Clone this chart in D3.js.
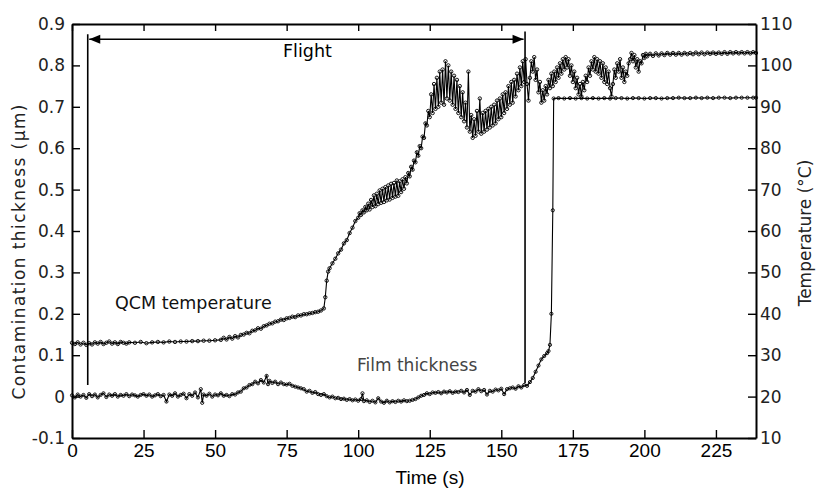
<!DOCTYPE html>
<html><head><meta charset="utf-8">
<script src="https://cdn.jsdelivr.net/npm/d3@7/dist/d3.min.js"></script>
<style>body{margin:0;background:#fff}svg{display:block}</style>
</head><body><svg id="chart" width="817" height="489"></svg>
<script>
// ---- data ----
const timeTicks = [0, 25, 50, 75, 100, 125, 150, 175, 200, 225];
const thicknessTicks = [-0.1, 0, 0.1, 0.2, 0.3, 0.4, 0.5, 0.6, 0.7, 0.8, 0.9];
const thicknessTickLabels = ["-0.1", "0", "0.1", "0.2", "0.3", "0.4", "0.5", "0.6", "0.7", "0.8", "0.9"];
const temperatureTicks = [10, 20, 30, 40, 50, 60, 70, 80, 90, 100, 110];

const flightStart = 5.5;       // s
const flightEnd = 158.3;       // s
const flightArrowLevel = 0.863; // µm
const flightStartBottom = 0.028;
const flightEndBottom = 0.033;
const flightStartTop = 0.875;
const flightEndTop = 0.882;

// QCM temperature (°C, right axis): [time s, temperature]
const qcmTemperature = [
[0,33.0],[1,32.7],[2,33.1],[3,32.6],[4,33.0],[5,32.5],[6,32.9],[7,32.6],[8,33.1],[9,32.8],[10,33.2],[11,32.7],[12,33.0],[13,33.3],[14,32.8],[15,33.1],[16,32.7],[17,33.2],[18,33.0],[19,32.8],[20,33.1],[22,33.0],[24,33.2],[26,32.9],[28,33.1],[30,33.2],[32,33.1],[34,33.3],[36,33.2],[38,33.3],[40,33.3],[42,33.4],[44,33.4],[46,33.5],[48,33.5],[50,33.6],[52,33.7],[53,34.2],[54,33.8],[55,34.4],[56,34.0],[57,34.6],[58,34.3],[59,34.9],[60,35.0],[61,35.4],[62,35.3],[63,35.9],[64,36.0],[65,36.5],[66,36.4],[67,37.0],[68,37.2],[69,37.6],[70,37.7],[71,38.1],[72,38.2],[73,38.6],[74,38.5],[75,38.9],[76,39.0],[77,39.3],[78,39.2],[79,39.6],[80,39.6],[81,39.9],[82,39.9],[83,40.1],[84,40.2],[85,40.4],[86,40.5],[87,40.8],[88,41.3],[88.5,44.0],[89,48.0],[89.5,50.2],[90,51.0],[91,52.2],[92,53.3],[93,54.6],[94,55.5],[95,57.0],[96,57.8],[97,59.5],[98,60.8],[99,62.4],
[100,63.2],[100.5,64.3],[101,63.9],[101.5,65.0],[102,64.5],[102.5,65.8],[103,65.0],[103.5,66.6],[104,65.2],[104.5,67.5],[105,65.8],[105.5,68.6],[106,66.0],[106.5,69.0],[107,66.5],[107.5,69.8],[108,66.8],[108.5,70.2],[109,67.0],[109.5,70.6],[110,67.4],[110.5,71.0],[111,67.6],[111.5,71.4],[112,68.0],[112.5,71.6],[113,68.3],[113.5,72.2],[114,68.5],[114.5,72.0],[115,69.4],[115.5,72.5],[116,70.2],[116.5,73.0],[117,71.5],[117.5,74.0],[118,73.2],[118.5,75.5],[119,74.8],[119.5,77.0],[120,76.6],[120.5,79.0],[121,78.2],[121.5,80.5],[122,80.0],[122.5,82.8],[123,82.5],[123.5,86.0],[124,85.5],[124.5,89.0],
[125,87.5],[125.5,93.0],[126,88.5],[126.5,95.5],[127,89.5],[127.5,97.0],[128,90.0],[128.5,98.5],[129,91.0],[129.5,99.0],[130,90.5],[130.5,101.0],[131,92.0],[131.5,100.0],[132,91.5],[132.5,98.5],[133,90.5],[133.5,97.5],[134,89.5],[134.5,96.5],[135,88.5],[135.5,95.0],[136,87.5],[136.5,93.5],[137,86.5],[137.5,91.0],[138,85.0],[138.5,98.5],[139,84.0],[139.5,88.0],[140,82.5],[140.5,87.0],[141,83.0],[141.5,89.0],[142,84.0],[142.5,92.0],[143,83.5],[143.5,88.5],[144,84.0],[144.5,89.0],[145,84.5],[145.5,89.5],[146,85.0],[146.5,90.0],[147,85.5],[147.5,90.5],[148,86.0],[148.5,91.5],[149,87.0],[149.5,92.0],
[150,87.5],[150.5,93.0],[151,88.5],[151.5,93.5],[152,89.5],[152.5,95.0],[153,90.5],[153.5,96.0],[154,91.0],[154.5,96.5],[155,92.5],[155.5,98.0],[156,94.0],[156.5,99.5],[157,95.0],[157.5,101.0],[158,96.0],[158.5,101.5],[159,95.5],[159.5,91.5],[160,97.0],[160.5,101.0],[161,98.5],[161.5,102.0],[162,96.5],[162.5,99.0],[163,93.5],[163.5,96.0],[164,91.0],[164.5,94.0],[165,91.5],[165.5,95.0],[166,93.0],[166.5,96.5],[167,94.5],[167.5,98.0],[168,95.0],[168.5,98.5],[169,96.0],[169.5,99.5],[170,97.0],[170.5,100.5],[171,98.0],[171.5,101.5],[172,99.0],[172.5,102.0],[173,99.5],[173.5,101.5],[174,97.5],[174.5,100.0],
[175,96.0],[175.5,98.5],[176,94.5],[176.5,97.0],[177,93.0],[177.5,95.5],[178,92.5],[178.5,96.0],[179,94.0],[179.5,97.5],[180,96.0],[180.5,99.5],[181,97.5],[181.5,101.0],[182,99.0],[182.5,102.0],[183,98.5],[183.5,101.5],[184,98.0],[184.5,101.0],[185,97.0],[185.5,100.5],[186,96.0],[186.5,99.5],[187,95.5],[187.5,98.5],[188,94.5],[188.5,92.5],[189,95.5],[189.5,99.0],[190,97.0],[190.5,100.5],[191,98.5],[191.5,101.5],[192,97.0],[192.5,99.5],[193,96.0],[193.5,98.5],[194,97.5],[194.5,100.5],[195,101.5],[195.5,103.0],[196,101.0],[196.5,102.5],[197,99.5],[197.5,101.5],[198,98.5],[198.5,101.0],[199,100.5],[199.5,102.5],
[200,101.8],[200.5,102.8],[201,102.2],[202,102.8],[203,102.3],[204,102.9],[205,102.4],[206,102.9],[207,102.5],[208,103.0],[209,102.6],[210,103.0],[211,102.6],[212,103.0],[213,102.6],[214,103.0],[215,102.7],[216,103.0],[217,102.7],[218,103.1],[219,102.7],[220,103.1],[221,102.7],[222,103.1],[223,102.8],[224,103.1],[225,102.8],[226,103.1],[227,102.8],[228,103.2],[229,102.8],[230,103.2],[231,102.9],[232,103.2],[233,102.9],[234,103.2],[235,102.9],[236,103.2],[237,102.9],[238,103.2],[239,103.0]
];

// Film thickness (µm, left axis): [time s, thickness]
const filmThickness = [
[0,0.003],[1,-0.002],[2,0.005],[3,0.0],[4,0.004],[5,-0.003],[6,0.006],[7,0.001],[8,0.005],[9,-0.002],[10,0.004],[11,0.008],[12,-0.001],[13,0.005],[14,0.002],[15,0.006],[16,0.0],[17,0.004],[18,0.002],[19,0.006],[20,0.001],[21,0.005],[22,0.003],[23,0.0],[24,0.004],[25,0.006],[26,0.002],[27,0.005],[28,0.0],[29,0.003],[30,0.006],[31,0.001],[32,0.004],[33,-0.012],[34,0.005],[35,0.002],[36,0.008],[37,0.0],[38,0.004],[39,0.007],[40,-0.004],[41,0.006],[42,0.002],[43,0.01],[44,-0.002],[45,0.018],[45.5,-0.015],[46,0.005],[47,0.002],[48,0.007],[49,0.0],[50,0.005],[51,0.003],[52,0.008],[53,0.002],[54,0.004],[55,0.001],[56,0.006],[57,0.005],[58,0.01],[59,0.012],[60,0.02],[61,0.022],[62,0.028],[63,0.03],[64,0.036],[65,0.032],[66,0.04],[67,0.034],[68,0.05],[68.5,0.03],[69,0.038],[70,0.033],[71,0.036],[72,0.03],[73,0.034],[74,0.03],[75,0.029],[76,0.031],[77,0.026],[78,0.024],[79,0.022],[80,0.02],[81,0.018],[82,0.012],[83,0.014],[84,0.009],[85,0.011],[86,0.006],[87,0.004],[88,0.006],[89,0.001],[90,-0.002],[91,0.0],[92,-0.004],[93,-0.003],[94,-0.006],[95,-0.005],[96,-0.008],[97,-0.006],[98,-0.009],[99,-0.007],[100,-0.01],[101,-0.006],[101.5,0.008],[102,-0.011],[103,-0.009],[104,-0.013],[105,-0.01],[106,-0.014],[107,-0.004],[108,-0.012],[109,-0.015],[110,-0.01],[111,-0.014],[112,-0.011],[113,-0.013],[114,-0.01],[115,-0.012],[116,-0.009],[117,-0.011],[118,-0.01],[119,-0.008],[120,-0.006],[121,-0.002],[122,0.002],[123,0.004],[124,0.008],[125,0.006],[126,0.01],[127,0.009],[128,0.011],[129,0.008],[130,0.012],[131,0.01],[132,0.013],[133,0.009],[134,0.012],[135,0.011],[136,0.014],[137,0.01],[138,0.016],[139,0.004],[140,0.014],[141,0.012],[142,0.018],[143,0.013],[144,0.016],[145,0.005],[146,0.014],[147,0.012],[148,0.017],[149,0.015],[150,0.019],[151,0.006],[152,0.018],[153,0.02],[154,0.022],[155,0.019],[156,0.025],[157,0.022],[158,0.028],[159,0.026],[160,0.035],[161,0.045],[162,0.06],[163,0.075],[164,0.09],[165,0.098],[166,0.105],[166.5,0.11],[167,0.125],[167.5,0.2],[168,0.45],[168.3,0.72],[170,0.721],[172,0.72],[174,0.721],[176,0.72],[178,0.721],[180,0.72],[182,0.721],[184,0.72],[186,0.721],[188,0.72],[190,0.721],[192,0.721],[194,0.72],[196,0.721],[198,0.721],[200,0.72],[202,0.721],[204,0.721],[206,0.72],[208,0.721],[210,0.721],[212,0.722],[214,0.721],[216,0.721],[218,0.722],[220,0.721],[222,0.722],[224,0.721],[226,0.722],[228,0.722],[230,0.721],[232,0.722],[234,0.722],[236,0.722],[238,0.722],[239,0.722]
];

// ---- drawing ----
const svg = d3.select("#chart");
const L = 72, R = 756, T = 24, B = 438;
const x = d3.scaleLinear().domain([0, 239]).range([L, R]);
const yL = d3.scaleLinear().domain([-0.1, 0.9]).range([B, T]);
const yR = d3.scaleLinear().domain([10, 110]).range([B, T]);

svg.append("rect").attr("width", 817).attr("height", 489).attr("fill", "#fff");

// axes
const gB = svg.append("g").attr("transform", `translate(0,${B})`)
  .call(d3.axisBottom(x).tickValues(timeTicks).tickSizeInner(-8).tickSizeOuter(0).tickPadding(6));
const gT = svg.append("g").attr("transform", `translate(0,${T})`)
  .call(d3.axisTop(x).tickValues(timeTicks).tickSizeInner(-7).tickSizeOuter(0).tickFormat(""));
const gL = svg.append("g").attr("transform", `translate(${L},0)`)
  .call(d3.axisLeft(yL).tickValues(thicknessTicks).tickSizeInner(-8).tickSizeOuter(0).tickPadding(7)
    .tickFormat((d, i) => thicknessTickLabels[i]));
const gR = svg.append("g").attr("transform", `translate(${R},0)`)
  .call(d3.axisRight(yR).tickValues(temperatureTicks).tickSizeInner(-8).tickSizeOuter(0).tickPadding(4)
    .tickFormat(d3.format("d")));

[gB, gT, gL, gR].forEach(g => {
  g.select(".domain").attr("stroke", "#000").attr("stroke-width", 2);
  g.selectAll(".tick line").attr("stroke", "#000").attr("stroke-width", 1.4);
});
gB.selectAll(".tick text").attr("font-family", "'Liberation Sans', Arial, sans-serif").attr("font-size", 19).attr("fill", "#000");
[gL, gR].forEach(g => g.selectAll(".tick text").attr("font-family", "'DejaVu Sans', sans-serif").attr("font-size", 17).attr("fill", "#222"));

// series
const lineT = d3.line().x(d => x(d[0])).y(d => yR(d[1]));
const lineF = d3.line().x(d => x(d[0])).y(d => yL(d[1]));

svg.append("path").datum(qcmTemperature).attr("d", lineT)
  .attr("fill", "none").attr("stroke", "#000").attr("stroke-width", 1.1);
svg.append("g").selectAll("circle").data(qcmTemperature).join("circle")
  .attr("cx", d => x(d[0])).attr("cy", d => yR(d[1])).attr("r", 1.7)
  .attr("fill", "none").attr("stroke", "#000").attr("stroke-width", 0.9);

svg.append("path").datum(filmThickness).attr("d", lineF)
  .attr("fill", "none").attr("stroke", "#000").attr("stroke-width", 1.1);
svg.append("g").selectAll("circle").data(filmThickness).join("circle")
  .attr("cx", d => x(d[0])).attr("cy", d => yL(d[1])).attr("r", 1.6)
  .attr("fill", "none").attr("stroke", "#000").attr("stroke-width", 0.9);

// flight markers
svg.append("line").attr("x1", x(flightStart)).attr("x2", x(flightStart))
  .attr("y1", yL(flightStartTop)).attr("y2", yL(flightStartBottom)).attr("stroke", "#000").attr("stroke-width", 1.6);
svg.append("line").attr("x1", x(flightEnd)).attr("x2", x(flightEnd))
  .attr("y1", yL(flightEndTop)).attr("y2", yL(flightEndBottom)).attr("stroke", "#000").attr("stroke-width", 1.6);
const ay = yL(flightArrowLevel);
const ax1 = x(flightStart) + 1.5, ax2 = x(flightEnd) - 1.5;
svg.append("line").attr("x1", ax1).attr("x2", ax2).attr("y1", ay).attr("y2", ay)
  .attr("stroke", "#000").attr("stroke-width", 1.6);
svg.append("path").attr("d", `M${ax1},${ay} L${ax1 + 11},${ay - 4.5} L${ax1 + 11},${ay + 4.5} Z`).attr("fill", "#000");
svg.append("path").attr("d", `M${ax2},${ay} L${ax2 - 11},${ay - 4.5} L${ax2 - 11},${ay + 4.5} Z`).attr("fill", "#000");

// labels
const lab = (txt, px, py, opts = {}) => svg.append("text").text(txt)
  .attr("x", px).attr("y", py)
  .attr("font-family", opts.family || "'DejaVu Sans', sans-serif")
  .attr("font-size", opts.size || 17)
  .attr("fill", opts.fill || "#000")
  .attr("text-anchor", opts.anchor || "start");

lab("Flight", 283, 57, {size: 17.5});
lab("QCM temperature", 115, 309, {size: 17.5, fill: "#111"});
lab("Film thickness", 357, 371, {size: 17, fill: "#444"});
lab("Time (s)", 430, 484, {family: "'Liberation Sans', Arial, sans-serif", size: 19, anchor: "middle"});

svg.append("text").text("Contamination thickness (µm)")
  .attr("transform", "translate(25,252) rotate(-90)")
  .attr("text-anchor", "middle")
  .attr("font-family", "'DejaVu Sans', sans-serif").attr("font-size", 17).attr("fill", "#222")
  .attr("textLength", 295).attr("lengthAdjust", "spacing");
svg.append("text").text("Temperature (°C)")
  .attr("transform", "translate(811,233) rotate(-90)")
  .attr("text-anchor", "middle")
  .attr("font-family", "'DejaVu Sans', sans-serif").attr("font-size", 17).attr("fill", "#222");
</script>
</body></html>
